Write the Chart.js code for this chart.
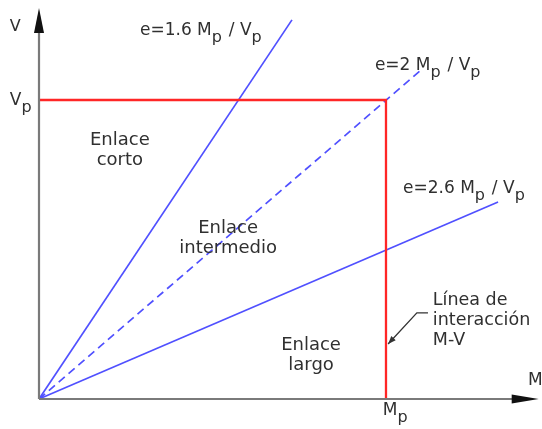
<!DOCTYPE html>
<html>
<head>
<meta charset="utf-8">
<script src="https://cdn.jsdelivr.net/npm/chart.js@4"></script>
<style>
  html, body { margin: 0; padding: 0; background: #fff; }
  #wrap { width: 542px; height: 429px; }
</style>
</head>
<body>
<div id="wrap"><canvas id="chart"></canvas></div>
<script>
// units: M measured in Mp, V measured in Vp
const rayNames = ['e=1.6', 'e=2', 'e=2.6'];
const rayEndM = [0.729, 1.098, 1.323];
const rayEndV = [1.268, 1.097, 0.659];
const rayDashed = [false, true, false];

const interactionM = [0, 1, 1];
const interactionV = [1, 1, 0];

const axisEndM = 1.44;
const axisEndV = 1.308;

const regionNames = [['Enlace', 'corto'], ['Enlace', 'intermedio'], ['Enlace', 'largo']];
const noteLines = ['Línea de', 'interacción', 'M-V'];
const leaderM = [1.121, 1.089, 1.006];
const leaderV = [0.288, 0.288, 0.184];

// where the texts sit (data units)
const rayLabelPos = [[0.291, 1.217], [0.968, 1.100], [1.049, 0.689]];
const regionPos = [[0.233, 0.849], [0.545, 0.555], [0.784, 0.164]];
const notePos = [1.135, 0.314];

const blue = '#5050ff';
const red = '#ff2626';
const grey = '#7a7a7a';
const ink = '#303030';
const font = '"DejaVu Sans", Verdana, sans-serif';

function pts(xs, ys) {
  return xs.map((x, i) => ({ x: x, y: ys[i] }));
}

const datasets = [];

// axes
datasets.push({ data: pts([0, 0], [0, axisEndV - 0.05]), borderColor: grey, borderWidth: 2.2 });
datasets.push({ data: pts([0, axisEndM - 0.05], [0, 0]), borderColor: grey, borderWidth: 2.2 });

// interaction line
datasets.push({ data: pts(interactionM, interactionV), borderColor: red, borderWidth: 2.3 });

// rays
rayNames.forEach((n, i) => {
  datasets.push({
    data: pts([0, rayEndM[i]], [0, rayEndV[i]]),
    borderColor: blue,
    borderWidth: 1.7,
    borderDash: rayDashed[i] ? [8, 5] : []
  });
});

// leader for the note
datasets.push({ data: pts(leaderM, leaderV), borderColor: '#333', borderWidth: 1.3 });

function rich(ctx, parts, x, y, size) {
  parts.forEach(p => {
    const s = p[1] ? size - 1 : size;
    ctx.font = s + 'px ' + font;
    ctx.fillText(p[0], x, p[1] ? y + 7 : y);
    x += ctx.measureText(p[0]).width + (p[1] ? 1.5 : 0);
  });
}

function arrow(ctx, tx, ty, fx, fy, len, half) {
  const a = Math.atan2(ty - fy, tx - fx);
  ctx.save();
  ctx.translate(tx, ty);
  ctx.rotate(a);
  ctx.beginPath();
  ctx.moveTo(0, 0);
  ctx.lineTo(-len, -half);
  ctx.lineTo(-len, half);
  ctx.closePath();
  ctx.fill();
  ctx.restore();
}

const annotate = {
  id: 'annotate',
  afterDatasetsDraw(chart) {
    const ctx = chart.ctx;
    const xs = chart.scales.x, ys = chart.scales.y;
    const X = v => xs.getPixelForValue(v);
    const Y = v => ys.getPixelForValue(v);
    ctx.save();
    ctx.fillStyle = '#111';
    arrow(ctx, X(0), Y(axisEndV), X(0), Y(0), 25, 5);
    arrow(ctx, X(axisEndM), Y(0), X(0), Y(0), 27, 4.5);
    ctx.fillStyle = '#333';
    arrow(ctx, X(leaderM[2]), Y(leaderV[2]), X(leaderM[1]), Y(leaderV[1]), 8, 3);

    ctx.fillStyle = ink;
    ctx.textBaseline = 'alphabetic';
    ctx.textAlign = 'left';

    rayNames.forEach((n, i) => {
      rich(ctx, [[n + ' M', false], ['p', true], [' / V', false], ['p', true]],
        X(rayLabelPos[i][0]), Y(rayLabelPos[i][1]), 17);
    });

    // axis names
    rich(ctx, [['V', false]], X(-0.084), Y(1.231), 16);
    rich(ctx, [['V', false], ['p', true]], X(-0.084), Y(0.983), 17);
    rich(ctx, [['M', false]], X(1.409), Y(0.047), 17);
    rich(ctx, [['M', false], ['p', true]], X(0.991), Y(-0.054), 17);

    ctx.textAlign = 'center';
    ctx.font = '18px ' + font;
    regionNames.forEach((lines, i) => {
      lines.forEach((t, k) => {
        ctx.fillText(t, X(regionPos[i][0]), Y(regionPos[i][1]) + k * 20);
      });
    });

    ctx.textAlign = 'left';
    ctx.font = '17.5px ' + font;
    noteLines.forEach((t, k) => {
      ctx.fillText(t, X(notePos[0]), Y(notePos[1]) + k * 20);
    });
    ctx.restore();
  }
};

new Chart(document.getElementById('chart'), {
  type: 'line',
  data: { datasets: datasets },
  options: {
    responsive: true,
    maintainAspectRatio: false,
    animation: false,
    layout: { padding: 0 },
    elements: { point: { radius: 0 }, line: { tension: 0 } },
    plugins: { legend: { display: false }, tooltip: { enabled: false } },
    scales: {
      x: { type: 'linear', min: -0.1124, max: 1.4496, display: false },
      y: { type: 'linear', min: -0.1003, max: 1.3344, display: false }
    }
  },
  plugins: [annotate]
});
</script>
</body>
</html>
